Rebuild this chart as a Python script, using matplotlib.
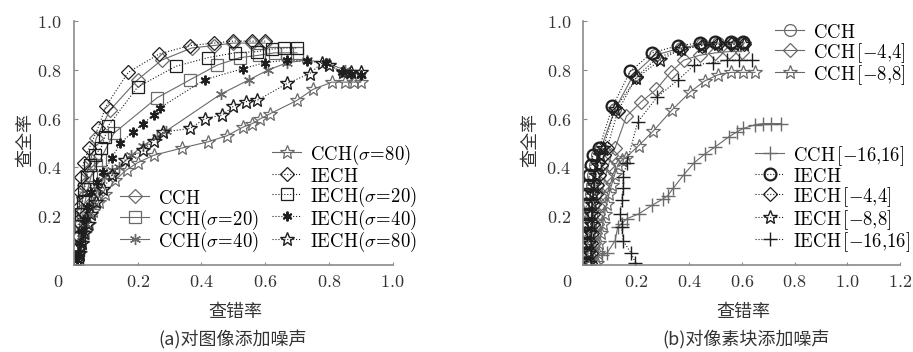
import matplotlib
matplotlib.use("Agg")
import matplotlib.pyplot as plt
from matplotlib.transforms import ScaledTranslation

plt.rcParams['mathtext.fontset'] = 'cm'
plt.rcParams['font.family'] = ['Noto Sans CJK SC', 'DejaVu Sans']

# ---------------- (a) 对图像添加噪声 ----------------
a_cch_x = [0.01, 0.012, 0.015, 0.018, 0.022, 0.027, 0.033, 0.041, 0.052, 0.07, 0.113, 0.2, 0.275, 0.37, 0.44, 0.50, 0.56, 0.60]
a_cch_y = [0.02, 0.07, 0.12, 0.17, 0.22, 0.28, 0.33, 0.38, 0.43, 0.52, 0.635, 0.76, 0.84, 0.89, 0.90, 0.91, 0.91, 0.91]
a_iech_x = [0.01, 0.011, 0.012, 0.014, 0.016, 0.019, 0.023, 0.03, 0.048, 0.075, 0.10, 0.17, 0.267, 0.364, 0.44, 0.50, 0.56, 0.60]
a_iech_y = [0.02, 0.07, 0.12, 0.18, 0.24, 0.30, 0.36, 0.42, 0.48, 0.56, 0.65, 0.79, 0.865, 0.90, 0.91, 0.918, 0.918, 0.918]
a_cch20_x = [0.01, 0.013, 0.017, 0.022, 0.028, 0.035, 0.043, 0.055, 0.07, 0.082, 0.125, 0.26, 0.365, 0.45, 0.52, 0.58, 0.63, 0.67, 0.70]
a_cch20_y = [0.02, 0.06, 0.11, 0.16, 0.21, 0.26, 0.31, 0.37, 0.41, 0.43, 0.54, 0.685, 0.76, 0.82, 0.85, 0.86, 0.87, 0.87, 0.87]
a_iech20_x = [0.01, 0.012, 0.015, 0.018, 0.022, 0.027, 0.033, 0.04, 0.05, 0.065, 0.085, 0.097, 0.107, 0.2, 0.32, 0.42, 0.505, 0.575, 0.62, 0.66, 0.70]
a_iech20_y = [0.02, 0.06, 0.11, 0.16, 0.21, 0.26, 0.31, 0.36, 0.41, 0.45, 0.48, 0.525, 0.57, 0.73, 0.815, 0.85, 0.87, 0.875, 0.885, 0.89, 0.89]
a_cch40_x = [0.01, 0.016, 0.023, 0.03, 0.038, 0.048, 0.06, 0.075, 0.095, 0.12, 0.14, 0.18, 0.217, 0.26, 0.29, 0.46, 0.55, 0.61, 0.67, 0.73, 0.79, 0.85, 0.90]
a_cch40_y = [0.02, 0.05, 0.09, 0.13, 0.17, 0.21, 0.26, 0.31, 0.36, 0.39, 0.40, 0.45, 0.49, 0.525, 0.55, 0.70, 0.76, 0.80, 0.83, 0.84, 0.83, 0.80, 0.78]
a_iech40_x = [0.01, 0.015, 0.02, 0.026, 0.033, 0.042, 0.055, 0.072, 0.092, 0.12, 0.145, 0.185, 0.217, 0.25, 0.27, 0.41, 0.53, 0.60, 0.67, 0.73, 0.79, 0.84, 0.87, 0.90]
a_iech40_y = [0.02, 0.05, 0.09, 0.14, 0.19, 0.24, 0.30, 0.34, 0.38, 0.44, 0.50, 0.545, 0.58, 0.615, 0.645, 0.76, 0.805, 0.83, 0.84, 0.835, 0.83, 0.79, 0.785, 0.78]
a_cch80_x = [0.01, 0.018, 0.026, 0.035, 0.046, 0.06, 0.078, 0.098, 0.13, 0.165, 0.2, 0.25, 0.34, 0.42, 0.48, 0.53, 0.56, 0.585, 0.615, 0.70, 0.75, 0.81, 0.85, 0.88, 0.90]
a_cch80_y = [0.02, 0.05, 0.09, 0.13, 0.17, 0.22, 0.26, 0.29, 0.35, 0.39, 0.42, 0.45, 0.48, 0.505, 0.53, 0.565, 0.58, 0.60, 0.62, 0.675, 0.72, 0.75, 0.75, 0.75, 0.75]
a_iech80_x = [0.01, 0.017, 0.025, 0.033, 0.043, 0.055, 0.07, 0.09, 0.12, 0.16, 0.217, 0.25, 0.28, 0.365, 0.41, 0.465, 0.50, 0.54, 0.575, 0.67, 0.74, 0.78, 0.80, 0.845, 0.87, 0.90]
a_iech80_y = [0.02, 0.05, 0.09, 0.13, 0.17, 0.21, 0.26, 0.31, 0.37, 0.43, 0.47, 0.51, 0.545, 0.56, 0.60, 0.615, 0.65, 0.67, 0.675, 0.745, 0.785, 0.83, 0.82, 0.79, 0.79, 0.79]

# ---------------- (b) 对像素块添加噪声 ----------------
b_cch_x = [0.012, 0.013, 0.014, 0.016, 0.018, 0.02, 0.023, 0.027, 0.032, 0.038, 0.045, 0.052, 0.067, 0.12, 0.19, 0.27, 0.37, 0.45, 0.51, 0.57, 0.61]
b_cch_y = [0.01, 0.05, 0.09, 0.13, 0.17, 0.21, 0.25, 0.29, 0.33, 0.37, 0.41, 0.45, 0.48, 0.64, 0.78, 0.86, 0.89, 0.905, 0.91, 0.91, 0.91]
b_cch4_x = [0.035, 0.038, 0.041, 0.045, 0.05, 0.055, 0.061, 0.068, 0.076, 0.085, 0.095, 0.105, 0.12, 0.163, 0.22, 0.276, 0.33, 0.38, 0.44, 0.50, 0.55, 0.60]
b_cch4_y = [0.01, 0.05, 0.09, 0.13, 0.17, 0.21, 0.25, 0.29, 0.33, 0.37, 0.41, 0.45, 0.48, 0.61, 0.67, 0.72, 0.79, 0.84, 0.86, 0.87, 0.875, 0.875]
b_cch8_x = [0.05, 0.055, 0.06, 0.066, 0.073, 0.08, 0.088, 0.097, 0.107, 0.118, 0.13, 0.145, 0.16, 0.21, 0.265, 0.335, 0.405, 0.46, 0.51, 0.56, 0.605, 0.65]
b_cch8_y = [0.01, 0.05, 0.09, 0.13, 0.17, 0.21, 0.25, 0.29, 0.33, 0.37, 0.41, 0.43, 0.44, 0.49, 0.55, 0.635, 0.71, 0.755, 0.78, 0.79, 0.79, 0.79]
b_cch16_x = [0.07, 0.09, 0.12, 0.13, 0.145, 0.165, 0.21, 0.26, 0.30, 0.32, 0.34, 0.38, 0.42, 0.46, 0.50, 0.55, 0.58, 0.605, 0.65, 0.68, 0.71, 0.75]
b_cch16_y = [0.04, 0.05, 0.10, 0.155, 0.17, 0.19, 0.21, 0.245, 0.27, 0.285, 0.315, 0.37, 0.42, 0.455, 0.485, 0.525, 0.545, 0.56, 0.575, 0.58, 0.58, 0.58]
b_iech_x = [0.005, 0.005, 0.006, 0.007, 0.008, 0.009, 0.011, 0.014, 0.018, 0.023, 0.029, 0.036, 0.06, 0.11, 0.178, 0.26, 0.36, 0.44, 0.50, 0.56, 0.605]
b_iech_y = [0.01, 0.05, 0.09, 0.13, 0.17, 0.21, 0.25, 0.29, 0.33, 0.37, 0.41, 0.45, 0.48, 0.65, 0.795, 0.87, 0.90, 0.91, 0.915, 0.915, 0.915]
b_iech4_x = [0.025, 0.027, 0.029, 0.032, 0.035, 0.038, 0.042, 0.047, 0.053, 0.06, 0.068, 0.078, 0.09, 0.13, 0.2, 0.28, 0.37, 0.45, 0.51, 0.56, 0.61]
b_iech4_y = [0.01, 0.05, 0.09, 0.13, 0.17, 0.21, 0.25, 0.29, 0.33, 0.37, 0.41, 0.45, 0.48, 0.63, 0.77, 0.85, 0.885, 0.90, 0.905, 0.905, 0.905]
b_iech8_x = [0.02, 0.021, 0.023, 0.025, 0.027, 0.03, 0.033, 0.037, 0.042, 0.048, 0.055, 0.063, 0.075, 0.12, 0.20, 0.29, 0.37, 0.45, 0.51, 0.57, 0.61]
b_iech8_y = [0.01, 0.05, 0.09, 0.13, 0.17, 0.21, 0.25, 0.29, 0.33, 0.37, 0.41, 0.45, 0.48, 0.64, 0.765, 0.84, 0.885, 0.90, 0.905, 0.905, 0.905]
b_iech16_x = [0.197, 0.18, 0.15, 0.145, 0.14, 0.145, 0.15, 0.15, 0.165, 0.205, 0.28, 0.36, 0.42, 0.49, 0.545, 0.59, 0.64]
b_iech16_y = [0.01, 0.05, 0.10, 0.155, 0.21, 0.265, 0.315, 0.36, 0.42, 0.585, 0.69, 0.76, 0.82, 0.83, 0.84, 0.84, 0.84]

a_xticks = [0, 0.2, 0.4, 0.6, 0.8, 1.0]
b_xticks = [0, 0.2, 0.4, 0.6, 0.8, 1.0, 1.2]
yticks = [0.2, 0.4, 0.6, 0.8, 1.0]

grey = '#6a6a6a'
dark = '#1e1e1e'
axis_col = '#8a8a8a'
star6 = (6, 2, 0)

fig = plt.figure(figsize=(9.13, 3.52), dpi=100)
ax1 = fig.add_axes([0.081, 0.247, 0.349, 0.693])
ax2 = fig.add_axes([0.639, 0.247, 0.347, 0.693])


def style(ax, xmax, xt):
    for s in ['top', 'right']:
        ax.spines[s].set_visible(False)
    for s in ['left', 'bottom']:
        ax.spines[s].set_color(axis_col)
        ax.spines[s].set_linewidth(1.2)
    ax.set_xlim(0, xmax)
    ax.set_ylim(0, 1.0)
    ax.set_xticks(xt)
    ax.set_xticklabels(['$%.1f$' % v if v else '$0$' for v in xt], fontsize=13, color='#333333')
    ax.set_yticks(yticks)
    ax.set_yticklabels(['$%.1f$' % v for v in yticks], fontsize=13, color='#333333')
    ax.tick_params(axis='x', direction='in', length=2.5, color=axis_col, pad=6)
    ax.tick_params(axis='y', direction='in', length=3, color=axis_col, pad=9)
    lab = ax.get_xticklabels()[0]
    lab.set_transform(lab.get_transform() + ScaledTranslation(-0.16, 0, fig.dpi_scale_trans))


def draw(ax, x, y, marker, col, ls, ms, mew, label):
    ax.plot(x, y, linestyle=ls, color=col, lw=0.8, marker=marker, ms=ms,
            mfc='none', mec=col, mew=mew, label=label)


# panel (a)
draw(ax1, a_cch80_x, a_cch80_y, '*', grey, '-', 10, 0.9, r'$\mathrm{CCH}(\sigma\!=\!80)$')
draw(ax1, a_cch40_x, a_cch40_y, star6, grey, '-', 8, 1.0, r'$\mathrm{CCH}(\sigma\!=\!40)$')
draw(ax1, a_cch20_x, a_cch20_y, 's', grey, '-', 8, 0.9, r'$\mathrm{CCH}(\sigma\!=\!20)$')
draw(ax1, a_cch_x, a_cch_y, 'D', grey, '-', 7, 0.9, r'$\mathrm{CCH}$')
draw(ax1, a_iech80_x, a_iech80_y, '*', dark, ':', 10, 1.0, r'$\mathrm{IECH}(\sigma\!=\!80)$')
draw(ax1, a_iech40_x, a_iech40_y, star6, dark, ':', 7, 1.4, r'$\mathrm{IECH}(\sigma\!=\!40)$')
draw(ax1, a_iech20_x, a_iech20_y, 's', dark, ':', 8, 0.9, r'$\mathrm{IECH}(\sigma\!=\!20)$')
draw(ax1, a_iech_x, a_iech_y, 'D', dark, ':', 7, 0.9, r'$\mathrm{IECH}$')
style(ax1, 1.0, a_xticks)

hd = {l.get_label(): l for l in ax1.get_lines()}
leg_kw = dict(frameon=False, fontsize=13.5, handlelength=1.55, handletextpad=0.5,
              handleheight=1.25, labelspacing=-0.09, borderpad=0, borderaxespad=0,
              numpoints=1, loc='upper left', bbox_transform=fig.transFigure)
keys1 = [r'$\mathrm{CCH}$', r'$\mathrm{CCH}(\sigma\!=\!20)$', r'$\mathrm{CCH}(\sigma\!=\!40)$']
keys2 = [r'$\mathrm{CCH}(\sigma\!=\!80)$', r'$\mathrm{IECH}$', r'$\mathrm{IECH}(\sigma\!=\!20)$',
         r'$\mathrm{IECH}(\sigma\!=\!40)$', r'$\mathrm{IECH}(\sigma\!=\!80)$']
lg = ax1.legend([hd[k] for k in keys1], keys1, bbox_to_anchor=(120 / 913, 1 - 188 / 352), **leg_kw)
ax1.add_artist(lg)
ax1.legend([hd[k] for k in keys2], keys2, bbox_to_anchor=(272 / 913, 1 - 143 / 352), **leg_kw)

# panel (b)
draw(ax2, b_cch16_x, b_cch16_y, '+', grey, '-', 10, 1.0, r'$\mathrm{CCH}\,[-16{,}16]$')
draw(ax2, b_cch8_x, b_cch8_y, '*', grey, '-', 10, 0.9, r'$\mathrm{CCH}\,[-8{,}8]$')
draw(ax2, b_cch4_x, b_cch4_y, 'D', grey, '-', 7, 0.9, r'$\mathrm{CCH}\,[-4{,}4]$')
draw(ax2, b_cch_x, b_cch_y, 'o', grey, '-', 8.5, 0.9, r'$\mathrm{CCH}$')
draw(ax2, b_iech16_x, b_iech16_y, '+', dark, ':', 10, 1.0, r'$\mathrm{IECH}\,[-16{,}16]$')
draw(ax2, b_iech4_x, b_iech4_y, 'D', dark, ':', 7, 0.9, r'$\mathrm{IECH}\,[-4{,}4]$')
draw(ax2, b_iech8_x, b_iech8_y, '*', dark, ':', 10, 1.0, r'$\mathrm{IECH}\,[-8{,}8]$')
draw(ax2, b_iech_x, b_iech_y, 'o', dark, ':', 8.5, 1.6, r'$\mathrm{IECH}$')
style(ax2, 1.2, b_xticks)

hd = {l.get_label(): l for l in ax2.get_lines()}
keys1 = [r'$\mathrm{CCH}$', r'$\mathrm{CCH}\,[-4{,}4]$', r'$\mathrm{CCH}\,[-8{,}8]$']
keys2 = [r'$\mathrm{CCH}\,[-16{,}16]$', r'$\mathrm{IECH}$', r'$\mathrm{IECH}\,[-4{,}4]$',
         r'$\mathrm{IECH}\,[-8{,}8]$', r'$\mathrm{IECH}\,[-16{,}16]$']
lg = ax2.legend([hd[k] for k in keys1], keys1, bbox_to_anchor=(775 / 913, 1 - 22 / 352), **leg_kw)
ax2.add_artist(lg)
ax2.legend([hd[k] for k in keys2], keys2, bbox_to_anchor=(755 / 913, 1 - 144 / 352), **leg_kw)

# axis titles and captions
txt = dict(fontsize=13, color='#333333', ha='center', va='center')
fig.text(25 / 913, 1 - 140 / 352, '查全率', rotation=90, **txt)
fig.text(530 / 913, 1 - 140 / 352, '查全率', rotation=90, **txt)
fig.text(235 / 913, 1 - 312 / 352, '查错率', **txt)
fig.text(743 / 913, 1 - 312 / 352, '查错率', **txt)
fig.text(233 / 913, 1 - 340 / 352, '(a)对图像添加噪声', **txt)
fig.text(746 / 913, 1 - 340 / 352, '(b)对像素块添加噪声', **txt)

fig.savefig('out.png', dpi=100)
